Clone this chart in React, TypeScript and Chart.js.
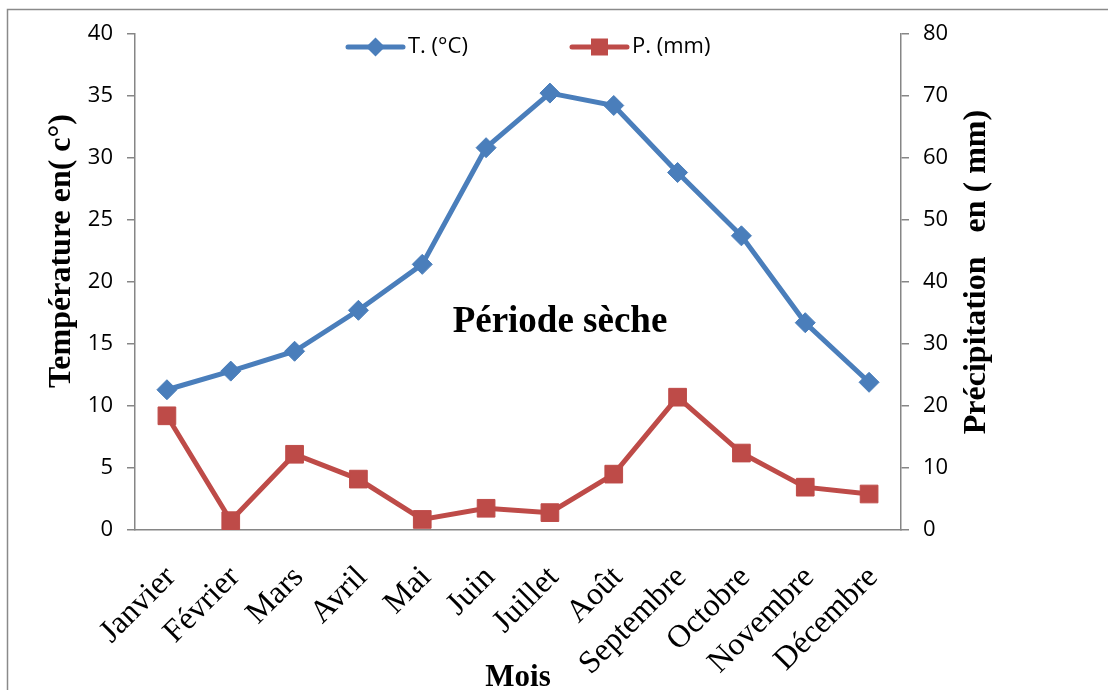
import { useEffect, useRef } from 'react';
import { Chart, registerables } from 'chart.js';

Chart.register(...registerables);

const months = ['Janvier', 'Février', 'Mars', 'Avril', 'Mai', 'Juin', 'Juillet', 'Août', 'Septembre', 'Octobre', 'Novembre', 'Décembre'];
const temperature = [11.3, 12.8, 14.4, 17.7, 21.4, 30.8, 35.2, 34.2, 28.8, 23.7, 16.7, 11.9];
const precipitation = [18.4, 1.5, 12.2, 8.2, 1.7, 3.5, 2.8, 9.0, 21.4, 12.4, 6.9, 5.8];
const tempRange = [0, 40];
const tempStep = 5;
const precipRange = [0, 80];
const precipStep = 10;
const seriesLabels = ['T. (°C)', 'P. (mm)'];

const BLUE = '#4A7EBB';
const RED = '#BE4B48';
const AXIS = '#868686';

const framePlugin = {
  id: 'frame',
  beforeDraw(chart: any) {
    const ctx = chart.ctx;
    ctx.save();
    ctx.fillStyle = '#fff';
    ctx.fillRect(0, 0, chart.width, chart.height);
    ctx.strokeStyle = '#8a8a8a';
    ctx.lineWidth = 1.5;
    ctx.beginPath();
    ctx.moveTo(7.5, chart.height);
    ctx.lineTo(7.5, 9.5);
    ctx.lineTo(chart.width, 9.5);
    ctx.stroke();
    ctx.restore();
  },
};

const textPlugin = {
  id: 'texts',
  afterDraw(chart: any) {
    const ctx = chart.ctx;
    const ca = chart.chartArea;
    ctx.save();
    ctx.fillStyle = '#000';
    ctx.font = 'bold 37px "Liberation Serif"';
    ctx.textAlign = 'center';
    ctx.textBaseline = 'alphabetic';
    ctx.fillText('Période sèche', 560, 332);
    ctx.font = 'bold 31px "Liberation Serif"';
    ctx.fillText('Mois', (ca.left + ca.right) / 2, 686);
    ctx.save();
    ctx.translate(62, 251);
    ctx.rotate(-Math.PI / 2);
    ctx.font = 'bold 32px "Liberation Serif"';
    ctx.textBaseline = 'middle';
    ctx.fillText('Température en( c°)', 0, 0);
    ctx.restore();
    ctx.save();
    ctx.translate(977, 272);
    ctx.rotate(-Math.PI / 2);
    ctx.font = 'bold 32px "Liberation Serif"';
    ctx.textBaseline = 'middle';
    ctx.fillText('Précipitation   en ( mm)', 0, 0);
    ctx.restore();

    const items = [
      { x: 348, ds: 0 },
      { x: 572, ds: 1 },
    ];
    const ly = 47;
    items.forEach((it) => {
      const ds = chart.data.datasets[it.ds];
      ctx.strokeStyle = ds.borderColor;
      ctx.lineWidth = 5;
      ctx.lineCap = 'round';
      ctx.beginPath();
      ctx.moveTo(it.x, ly);
      ctx.lineTo(it.x + 55, ly);
      ctx.stroke();
      ctx.fillStyle = ds.backgroundColor;
      const cx = it.x + 27.5;
      ctx.beginPath();
      if (ds.pointStyle === 'rectRot') {
        const r = 9.5;
        ctx.moveTo(cx, ly - r);
        ctx.lineTo(cx + r, ly);
        ctx.lineTo(cx, ly + r);
        ctx.lineTo(cx - r, ly);
        ctx.closePath();
      } else {
        const h = 8.5;
        ctx.rect(cx - h, ly - h, 2 * h, 2 * h);
      }
      ctx.fill();
      ctx.fillStyle = '#000';
      ctx.font = '22px "Open Sans"';
      ctx.textAlign = 'left';
      ctx.textBaseline = 'middle';
      ctx.fillText(ds.label, it.x + 60, ly);
    });
    ctx.restore();
  },
};

export default function App() {
  const ref = useRef<HTMLCanvasElement | null>(null);
  useEffect(() => {
    if (!ref.current) return;
    const chart = new Chart(ref.current, {
      type: 'line',
      data: {
        labels: months,
        datasets: [
          {
            label: seriesLabels[0],
            data: temperature,
            yAxisID: 'y',
            borderColor: BLUE,
            backgroundColor: BLUE,
            borderWidth: 5,
            pointStyle: 'rectRot',
            pointRadius: 10,
            pointBorderWidth: 1,
            pointBorderColor: BLUE,
            pointBackgroundColor: BLUE,
            tension: 0,
            order: 1,
          },
          {
            label: seriesLabels[1],
            data: precipitation,
            yAxisID: 'y2',
            borderColor: RED,
            backgroundColor: RED,
            borderWidth: 5,
            pointStyle: 'rect',
            pointRadius: 12.5,
            pointBorderWidth: 1,
            pointBorderColor: RED,
            pointBackgroundColor: RED,
            tension: 0,
            order: 0,
          },
        ],
      },
      options: {
        responsive: false,
        animation: false,
        layout: { padding: { top: 33.5, left: 0, right: 0, bottom: 0 } },
        plugins: {
          legend: { display: false },
          tooltip: { enabled: false },
          title: { display: false },
        },
        scales: {
          x: {
            type: 'category',
            offset: true,
            grid: { display: false, drawTicks: false },
            border: { display: true, color: AXIS, width: 1.5 },
            ticks: {
              autoSkip: false,
              maxRotation: 45,
              minRotation: 45,
              padding: 29,
              labelOffset: 4,
              color: '#000',
              font: { family: '"Liberation Serif"', size: 32 },
            },
            afterFit: (s: any) => {
              s.height = 160;
            },
          },
          y: {
            position: 'left',
            min: tempRange[0],
            max: tempRange[1],
            ticks: {
              stepSize: tempStep,
              padding: 14,
              color: '#000',
              font: { family: '"Open Sans"', size: 22 },
            },
            grid: { drawOnChartArea: false, drawTicks: true, tickLength: 8, color: AXIS, lineWidth: 1.5 },
            border: { display: true, color: AXIS, width: 1.5 },
            afterFit: (s: any) => {
              s.width = 135;
            },
          },
          y2: {
            position: 'right',
            min: precipRange[0],
            max: precipRange[1],
            ticks: {
              stepSize: precipStep,
              padding: 14,
              color: '#000',
              font: { family: '"Open Sans"', size: 22 },
            },
            grid: { drawOnChartArea: false, drawTicks: true, tickLength: 8, color: AXIS, lineWidth: 1.5 },
            border: { display: true, color: AXIS, width: 1.5 },
            afterFit: (s: any) => {
              s.width = 207;
            },
          },
        },
      },
      plugins: [framePlugin, textPlugin],
    });
    return () => chart.destroy();
  }, []);
  return (
    <div style={{ position: 'fixed', left: 0, top: 0, width: 1108, height: 690 }}>
      <canvas ref={ref} width={1108} height={690} style={{ display: 'block', width: 1108, height: 690 }} />
    </div>
  );
}
